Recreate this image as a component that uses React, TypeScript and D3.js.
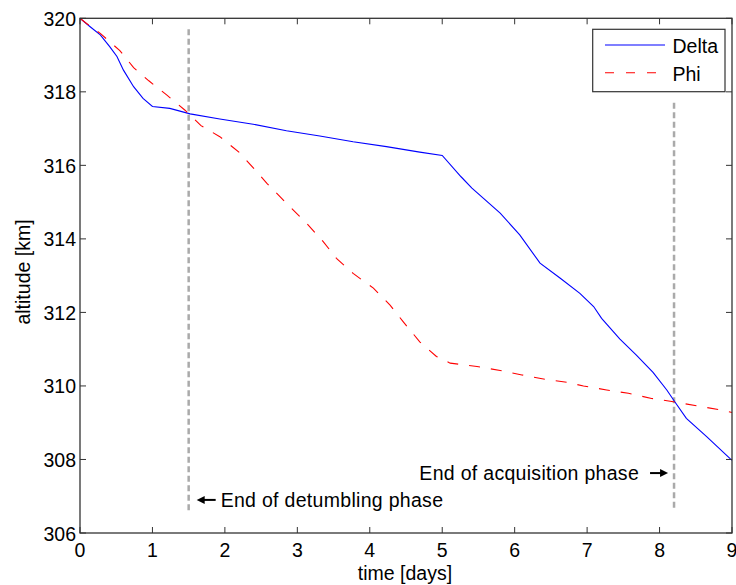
import React from "react";
import * as d3 from "d3";

const deltaT = [0, 0.14, 0.28, 0.41, 0.51, 0.6, 0.74, 0.87, 1.0, 1.24, 1.52, 1.93, 2.39, 2.85, 3.31, 3.77, 4.23, 4.69, 5.0, 5.26, 5.41, 5.8, 6.07, 6.35, 6.63, 6.9, 7.09, 7.2, 7.45, 7.68, 7.91, 8.1, 8.21, 8.37, 8.65, 8.97, 9.0];
const deltaAlt = [320, 319.77, 319.55, 319.23, 318.96, 318.59, 318.14, 317.82, 317.6, 317.55, 317.4, 317.26, 317.12, 316.94, 316.8, 316.64, 316.51, 316.36, 316.27, 315.69, 315.38, 314.7, 314.11, 313.34, 312.93, 312.52, 312.16, 311.84, 311.28, 310.84, 310.37, 309.89, 309.57, 309.12, 308.62, 308.03, 307.98];

const phiT = [0, 0.09, 0.28, 0.55, 0.74, 0.95, 1.2, 1.45, 1.67, 1.93, 2.2, 2.42, 2.58, 2.85, 3.13, 3.36, 3.54, 3.77, 4.05, 4.28, 4.46, 4.69, 4.92, 5.11, 5.48, 5.8, 6.1, 6.42, 6.72, 6.95, 7.27, 7.57, 7.89, 8.19, 8.51, 8.84, 9.0];
const phiAlt = [320, 319.86, 319.59, 319.12, 318.66, 318.3, 317.91, 317.5, 317.08, 316.78, 316.35, 315.87, 315.51, 314.97, 314.42, 313.92, 313.47, 313.06, 312.66, 312.2, 311.75, 311.2, 310.8, 310.62, 310.53, 310.42, 310.3, 310.18, 310.1, 310.0, 309.89, 309.8, 309.66, 309.57, 309.46, 309.35, 309.28];

const xTicks = [0, 1, 2, 3, 4, 5, 6, 7, 8, 9];
const yTicks = [306, 308, 310, 312, 314, 316, 318, 320];
const seriesNames = ["Delta", "Phi"];

const phaseLines = [
  { t: 1.5, top: 319.7, bottom: 306.55 },
  { t: 8.2, top: 317.7, bottom: 306.6 },
];
const annotations = [
  { text: "End of detumbling phase", t: 1.5, alt: 306.9, side: "right" },
  { text: "End of acquisition phase", t: 8.2, alt: 307.63, side: "left" },
];

const W = 736, H = 585;
const M = { left: 80, right: 732, top: 18.3, bottom: 533 };
const FONT = "'Liberation Sans', Arial, Helvetica, sans-serif";
const FS = 19.5;

export default function App() {
  const x = d3.scaleLinear().domain([0, 9]).range([M.left, M.right]);
  const y = d3.scaleLinear().domain([306, 320]).range([M.bottom, M.top]);
  const line = d3.line<[number, number]>().x((d) => x(d[0])).y((d) => y(d[1]));
  const deltaPts = deltaT.map((t, i) => [t, deltaAlt[i]] as [number, number]);
  const phiPts = phiT.map((t, i) => [t, phiAlt[i]] as [number, number]);
  const axisColor = "#333";
  const tickLen = 6;

  return (
    <svg width={W} height={H} style={{ position: "absolute", left: 0, top: 0, background: "#fff" }} fontFamily={FONT}>
      <rect x={0} y={0} width={W} height={H} fill="#fff" />
      {/* phase lines */}
      {phaseLines.map((p, i) => (
        <line key={i} x1={x(p.t)} x2={x(p.t)} y1={y(p.top)} y2={y(p.bottom)} stroke="#aaa" strokeWidth={2.5} strokeDasharray="6,3.5" />
      ))}
      {/* series */}
      <path d={line(deltaPts) || ""} fill="none" stroke="#0000ff" strokeWidth={1.1} />
      <path d={line(phiPts) || ""} fill="none" stroke="#ff0000" strokeWidth={1.1} strokeDasharray="11,11" />
      {/* axes box */}
      <rect x={M.left} y={M.top} width={M.right - M.left} height={M.bottom - M.top} fill="none" stroke={axisColor} strokeWidth={1.3} />
      {xTicks.map((t) => (
        <g key={"xt" + t}>
          <line x1={x(t)} x2={x(t)} y1={M.bottom} y2={M.bottom - tickLen} stroke={axisColor} strokeWidth={1} />
          <line x1={x(t)} x2={x(t)} y1={M.top} y2={M.top + tickLen} stroke={axisColor} strokeWidth={1} />
          <text x={x(t)} y={557} textAnchor="middle" fontSize={FS} fill="#000">{t}</text>
        </g>
      ))}
      {yTicks.map((v) => (
        <g key={"yt" + v}>
          <line x1={M.left} x2={M.left + tickLen} y1={y(v)} y2={y(v)} stroke={axisColor} strokeWidth={1} />
          <line x1={M.right} x2={M.right - tickLen} y1={y(v)} y2={y(v)} stroke={axisColor} strokeWidth={1} />
          <text x={76} y={y(v) + 7.5} textAnchor="end" fontSize={FS} fill="#000">{v}</text>
        </g>
      ))}
      <text x={405} y={580} textAnchor="middle" fontSize={FS} fill="#000">time [days]</text>
      <text transform={`translate(30,272) rotate(-90)`} textAnchor="middle" fontSize={FS} fill="#000">altitude [km]</text>
      {/* annotations */}
      {annotations.map((a, i) => {
        const ax = x(a.t);
        const ay = y(a.alt);
        if (a.side === "right") {
          const tip = ax + 8, tail = ax + 27;
          return (
            <g key={"an" + i}>
              <line x1={tip + 6} x2={tail} y1={ay} y2={ay} stroke="#000" strokeWidth={2} />
              <path d={`M${tip},${ay} L${tip + 8},${ay - 4} L${tip + 8},${ay + 4} Z`} fill="#000" />
              <text x={ax + 32} y={ay + 7} fontSize={FS} fill="#000" letterSpacing={0.3}>{a.text}</text>
            </g>
          );
        }
        const tip = ax - 6, tail = ax - 24;
        return (
          <g key={"an" + i}>
            <line x1={tail} x2={tip - 6} y1={ay} y2={ay} stroke="#000" strokeWidth={2} />
            <path d={`M${tip},${ay} L${tip - 8},${ay - 4} L${tip - 8},${ay + 4} Z`} fill="#000" />
            <text x={ax - 35} y={ay + 7} textAnchor="end" fontSize={FS} fill="#000" letterSpacing={0.3}>{a.text}</text>
          </g>
        );
      })}
      {/* legend */}
      <g>
        <rect x={592.7} y={29.3} width={132.3} height={62.4} fill="#fff" stroke={axisColor} strokeWidth={1.2} />
        {seriesNames.map((n, i) => {
          const ly = 45 + i * 27.7;
          return (
            <g key={n}>
              <line x1={605} x2={665} y1={ly} y2={ly} stroke={i === 0 ? "#0000ff" : "#ff0000"} strokeWidth={1.1} strokeDasharray={i === 0 ? undefined : "9,12"} />
              <text x={672.5} y={ly + 8} fontSize={FS} fill="#000">{n}</text>
            </g>
          );
        })}
      </g>
    </svg>
  );
}
